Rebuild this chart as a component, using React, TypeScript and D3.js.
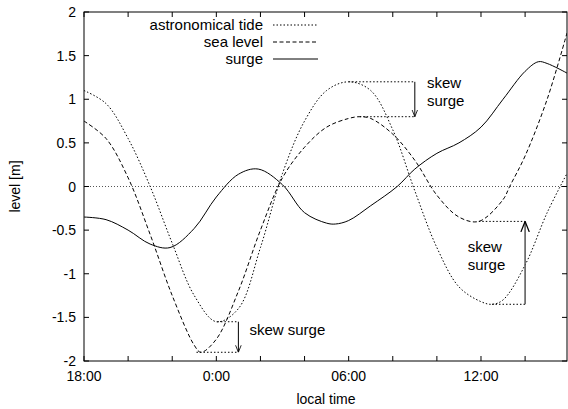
import React from 'react'
import { scaleLinear, line, curveCatmullRom } from 'd3'

// hours after 18:00
const tideH = [0, 1, 2, 3, 4, 5, 6, 7, 8, 9, 10, 11, 12, 13, 14, 15, 16, 17, 18, 18.5, 19, 20, 21, 21.9]
const tideV = [1.1, 0.95, 0.55, 0, -0.65, -1.25, -1.55, -1.4, -0.7, 0.15, 0.75, 1.1, 1.2, 1.1, 0.65, -0.05, -0.7, -1.15, -1.32, -1.35, -1.3, -0.9, -0.3, 0.15]
const seaH = [0, 1, 2, 3, 4, 5, 5.3, 6, 7, 8, 9, 10, 11, 12, 12.5, 13, 14, 15, 16, 17, 17.9, 19, 19.3, 20, 21, 21.9]
const seaV = [0.75, 0.55, 0.1, -0.55, -1.25, -1.82, -1.9, -1.75, -1.2, -0.5, 0.1, 0.45, 0.68, 0.78, 0.8, 0.78, 0.6, 0.3, -0.1, -0.35, -0.4, -0.15, 0, 0.35, 1.0, 1.76]
const surgeH = [0, 1, 2, 3, 3.9, 5, 6, 7, 7.9, 9, 10, 11, 11.4, 12, 13, 14.2, 15, 16, 17, 18, 19, 20, 20.6, 21, 21.9]
const surgeV = [-0.35, -0.38, -0.5, -0.66, -0.7, -0.48, -0.12, 0.14, 0.2, 0.02, -0.3, -0.42, -0.43, -0.39, -0.22, 0, 0.2, 0.38, 0.5, 0.68, 1.0, 1.32, 1.43, 1.41, 1.3]

const yTicks = [-2, -1.5, -1, -0.5, 0, 0.5, 1, 1.5, 2]
const xTicks = [0, 2, 4, 6, 8, 10, 12, 14, 16, 18, 20]
const xLabels = [{ h: 0, t: '18:00' }, { h: 6, t: '0:00' }, { h: 12, t: '06:00' }, { h: 18, t: '12:00' }]

// skew surge annotations
const skew = [
  { th: 6.05, tv: -1.55, sh: 5.1, sv: -1.9, ah: 7, up: false, lines: ['skew surge'], lh: 7.5, lv: -1.7 },
  { th: 12, tv: 1.2, sh: 12.5, sv: 0.8, ah: 15, up: false, lines: ['skew', 'surge'], lh: 15.55, lv: 1.13 },
  { th: 18.5, tv: -1.35, sh: 17.9, sv: -0.4, ah: 20, up: true, lines: ['skew', 'surge'], lh: 17.4, lv: -0.75 },
]

const W = 568, H = 409
const m = { left: 84, right: 1, top: 12, bottom: 48 }
const font = 'Liberation Sans, Arial, sans-serif'

export default function App() {
  const x = scaleLinear().domain([0, 21.9]).range([m.left, W - m.right])
  const y = scaleLinear().domain([-2, 2]).range([H - m.bottom, m.top])
  const mk = (hs: number[], vs: number[]) =>
    line<number>().x((_, i) => x(hs[i])).y(v => y(v)).curve(curveCatmullRom.alpha(0.5))(vs) || ''

  const series = [
    { name: 'astronomical tide', d: mk(tideH, tideV), dash: '1.5,2' },
    { name: 'sea level', d: mk(seaH, seaV), dash: '4,2.5' },
    { name: 'surge', d: mk(surgeH, surgeV), dash: '' },
  ]

  return (
    <svg width={W} height={H} style={{ position: 'absolute', left: 0, top: 0 }} fontFamily={font}>
      <rect width={W} height={H} fill="#fff" />
      <defs>
        <clipPath id="c"><rect x={m.left} y={m.top} width={W - m.right - m.left} height={H - m.bottom - m.top} /></clipPath>
        <marker id="ah" viewBox="0 0 10 10" refX="10" refY="5" markerWidth="7" markerHeight="9" orient="auto">
          <path d="M0,1 L10,5 L0,9" fill="none" stroke="#000" strokeWidth="1.2" />
        </marker>
      </defs>
      <line x1={m.left} x2={W - m.right} y1={y(0)} y2={y(0)} stroke="#555" strokeDasharray="1,2" />
      {yTicks.map(t => (
        <g key={t}>
          <line x1={m.left} x2={m.left + 5} y1={y(t)} y2={y(t)} stroke="#000" />
          <line x1={W - m.right - 5} x2={W - m.right} y1={y(t)} y2={y(t)} stroke="#000" />
          <text x={m.left - 8} y={y(t) + 5} textAnchor="end" fontSize={14}>{t}</text>
        </g>
      ))}
      {xTicks.map(t => (
        <g key={t}>
          <line x1={x(t)} x2={x(t)} y1={H - m.bottom} y2={H - m.bottom - 5} stroke="#000" />
          <line x1={x(t)} x2={x(t)} y1={m.top} y2={m.top + 5} stroke="#000" />
        </g>
      ))}
      {xLabels.map(l => (
        <text key={l.t} x={x(l.h)} y={H - m.bottom + 20} textAnchor="middle" fontSize={14}>{l.t}</text>
      ))}
      <text x={(m.left + W) / 2} y={H - 5} textAnchor="middle" fontSize={14}>local time</text>
      <text transform={`translate(20,${y(0)}) rotate(-90)`} textAnchor="middle" fontSize={14}>level [m]</text>
      <g clipPath="url(#c)">
        {series.map(s => (
          <path key={s.name} d={s.d} fill="none" stroke="#000" strokeWidth={1} strokeDasharray={s.dash} />
        ))}
      </g>
      {skew.map((s, i) => (
        <g key={i}>
          <line x1={x(s.th)} x2={x(s.ah)} y1={y(s.tv)} y2={y(s.tv)} stroke="#000" strokeDasharray="1.5,2" />
          <line x1={x(s.sh)} x2={x(s.ah)} y1={y(s.sv)} y2={y(s.sv)} stroke="#000" strokeDasharray="1.5,2" />
          <line x1={x(s.ah)} x2={x(s.ah)} y1={y(s.tv)} y2={y(s.sv)}
            stroke={s.up ? '#555' : '#000'} strokeWidth={s.up ? 1.5 : 1} markerEnd="url(#ah)" />
          {s.lines.map((t, j) => (
            <text key={j} x={x(s.lh)} y={y(s.lv) + j * 18} fontSize={15}>{t}</text>
          ))}
        </g>
      ))}
      {series.map((s, i) => (
        <g key={s.name}>
          <text x={263} y={30 + i * 17} textAnchor="end" fontSize={15}>{s.name}</text>
          <line x1={273} x2={318} y1={25 + i * 17} y2={25 + i * 17} stroke="#000" strokeDasharray={s.dash} />
        </g>
      ))}
      <rect x={m.left} y={m.top} width={W - m.right - m.left} height={H - m.bottom - m.top} fill="none" stroke="#000" />
    </svg>
  )
}
